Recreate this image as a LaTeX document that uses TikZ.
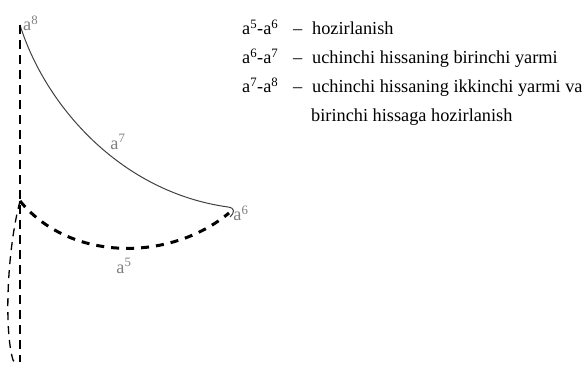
\documentclass[tikz,border=0pt]{standalone}
\usepackage{fontspec}
\setmainfont{Liberation Serif}
\usetikzlibrary{positioning}
\newcommand\legline[2]{\makebox[51pt][l]{#1}\makebox[19pt][l]{--}#2}
\begin{document}
\begin{tikzpicture}[x = 1pt, y = -1pt, font = \fontsize{18.3}{22}\selectfont,
  lbl/.style = {text = gray, inner sep = 1pt},
  txt/.style = {anchor = base west, inner sep = 0pt}]
  \useasboundingbox (0,0) rectangle (584,374);
  \coordinate (a8) at (20,25);
  \coordinate (a6) at (228,207);
  \coordinate (v) at (20,201);
  \coordinate (a5) at (229,213);
  \coordinate (bot) at (20,362);
  \draw [black!75, line width = 1pt] (a8) .. controls (45,105) and (120,192)
    .. (a6) .. controls (235,208) and (235,212) .. (230,217);
  \draw [line width = 1.5pt, dash pattern = on 9pt off 6pt] (a8) -- (bot);
  \draw [line width = 3pt, dash pattern = on 8pt off 7pt]
    (v) .. controls (70,262) and (170,262) .. (a5);
  \draw [line width = 1.3pt, dash pattern = on 8pt off 6pt]
    (v) .. controls (7,250) and (4,330) .. (13,360) -- (17,366);
  \node [lbl, anchor = south west] (l8) at (22,32) {a\textsuperscript{8}};
  \node [lbl] (l7) at (118,142) {a\textsuperscript{7}};
  \node [lbl] (l6) at (241,213) {a\textsuperscript{6}};
  \node [lbl] (l5) at (124,266) {a\textsuperscript{5}};
  \node [txt] (k1) at (242,35)
    {\legline{a\textsuperscript{5}-a\textsuperscript{6}}{hozirlanish}};
  \node [txt] (k2) at (242,64)
    {\legline{a\textsuperscript{6}-a\textsuperscript{7}}{uchinchi hissaning birinchi yarmi}};
  \node [txt] (k3) at (242,93)
    {\legline{a\textsuperscript{7}-a\textsuperscript{8}}{uchinchi hissaning ikkinchi yarmi va}};
  \node [txt] (k4) at (311,122) {birinchi hissaga hozirlanish};
\end{tikzpicture}
\end{document}
